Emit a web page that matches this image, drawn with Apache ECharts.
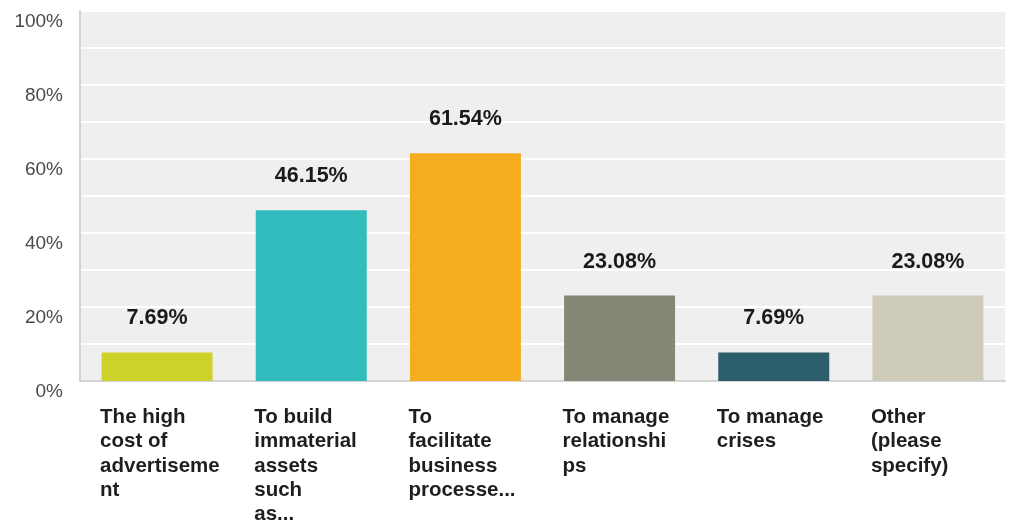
<!DOCTYPE html>
<html>
<head>
<meta charset="utf-8">
<script src="https://cdn.jsdelivr.net/npm/echarts@6/dist/echarts.min.js"></script>
<style>
  html, body { margin: 0; padding: 0; background: #ffffff; }
  #chart { width: 1009px; height: 522px; }
</style>
</head>
<body>
<div id="chart"></div>
<script>
// Survey answers (category labels already broken into lines as displayed)
const categories = [
  'The high\ncost of\nadvertiseme\nnt',
  'To build\nimmaterial\nassets\nsuch\nas...',
  'To\nfacilitate\nbusiness\nprocesse...',
  'To manage\nrelationshi\nps',
  'To manage\ncrises',
  'Other\n(please\nspecify)'
];
const values = [7.69, 46.15, 61.54, 23.08, 7.69, 23.08];
const barColors = ['#cdd22a', '#33bcbd', '#f5ac1f', '#868877', '#2c5e6b', '#cecbbb'];
const yTicks = [0, 20, 40, 60, 80, 100];

const chart = echarts.init(document.getElementById('chart'), null, { renderer: 'canvas' });

chart.setOption({
  animation: false,
  grid: { left: 80, right: 4, top: 11, bottom: 141, containLabel: false,
          outerBoundsMode: 'none',
          show: true, backgroundColor: '#efefef', borderWidth: 0 },
  xAxis: {
    type: 'category',
    data: categories,
    axisLine: { show: true, lineStyle: { color: '#d4d4d4', width: 2 } },
    axisTick: { show: false },
    axisLabel: {
      interval: 0,
      margin: 24,
      align: 'center',
      verticalAlign: 'top',
      formatter: function (v) {
        return v.split('\n').map(function (s) { return '{t|' + s + '}'; }).join('\n');
      },
      rich: {
        t: {
          width: 114,
          align: 'left',
          fontFamily: 'Liberation Sans, Arial, sans-serif',
          fontWeight: 'bold',
          fontSize: 20.5,
          lineHeight: 24.4,
          color: '#1e1e1e'
        }
      }
    }
  },
  yAxis: {
    type: 'value',
    min: 0,
    max: 100,
    interval: 10,
    axisLine: { show: true, lineStyle: { color: '#d4d4d4', width: 2 } },
    axisTick: { show: false },
    splitLine: { show: true, lineStyle: { color: '#ffffff', width: 2 } },
    axisLabel: {
      margin: 17,
      color: '#4a4a4a',
      fontFamily: 'Liberation Sans, Arial, sans-serif',
      fontSize: 19,
      verticalAlign: 'top',
      padding: [1, 0, 0, 0],
      formatter: function (v) {
        return yTicks.indexOf(v) >= 0 ? v + '%' : '';
      }
    }
  },
  series: [{
    type: 'bar',
    data: values.map(function (v, i) {
      return { value: v, itemStyle: { color: barColors[i] } };
    }),
    barWidth: 111,
    label: {
      show: true,
      position: 'top',
      distance: 23,
      formatter: function (p) { return p.value.toFixed(2) + '%'; },
      fontFamily: 'Liberation Sans, Arial, sans-serif',
      fontWeight: 'bold',
      fontSize: 21.5,
      color: '#1a1a1a'
    }
  }]
});
</script>
</body>
</html>
